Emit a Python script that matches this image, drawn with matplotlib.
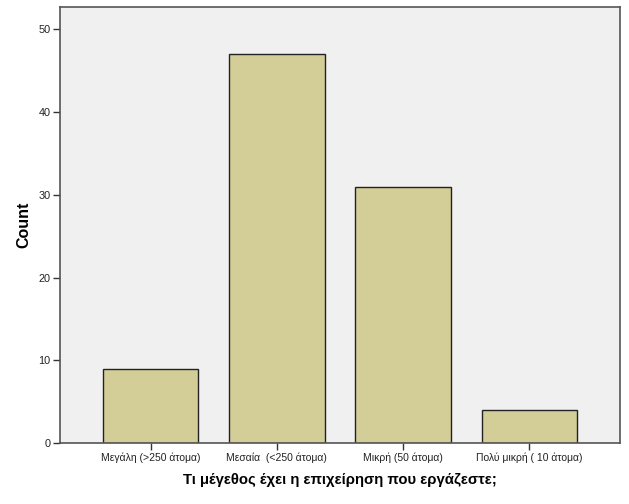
import numpy as np
import matplotlib
matplotlib.use("Agg")
import matplotlib.pyplot as plt

plt.rcParams['font.family'] = ['Liberation Sans', 'DejaVu Sans']

categories = ["Μεγάλη (>250 άτομα)", "Μεσαία  (<250 άτομα)", "Μικρή (50 άτομα)", "Πολύ μικρή ( 10 άτομα)"]
counts = [9, 47, 31, 4]
yticks = [0, 10, 20, 30, 40, 50]

fig = plt.figure(figsize=(6.29, 5.04), dpi=100)
ax = fig.add_axes([60/629, 1 - 443/504, 560/629, 436/504])
ax.set_facecolor('#f0f0f0')

x = np.arange(len(categories))
ax.bar(x, counts, width=0.755, color='#d3ce98', edgecolor='#222222', linewidth=1.0, zorder=2)

ax.set_xlim(-0.72, 3.72)
ax.set_ylim(0, 52.7)
ax.set_xticks(x)
ax.set_xticklabels(categories, fontsize=7.5, color='#222222')
ax.set_yticks(yticks)
ax.set_yticklabels([str(t) for t in yticks], fontsize=7.8, color='#222222')
ax.tick_params(axis='both', direction='out', length=5, width=1, color='#333333', pad=2)

for s in ax.spines.values():
    s.set_color('#555555')
    s.set_linewidth(1.2)

ax.set_ylabel('Count', fontsize=11.5, fontweight='bold')
ax.yaxis.set_label_coords(-0.052, 0.5)
ax.set_xlabel('Τι μέγεθος έχει η επιχείρηση που εργάζεστε;', fontsize=10.7, fontweight='bold')
ax.xaxis.set_label_coords(0.5, -0.068)

fig.savefig('out.png', dpi=100, facecolor='white')
